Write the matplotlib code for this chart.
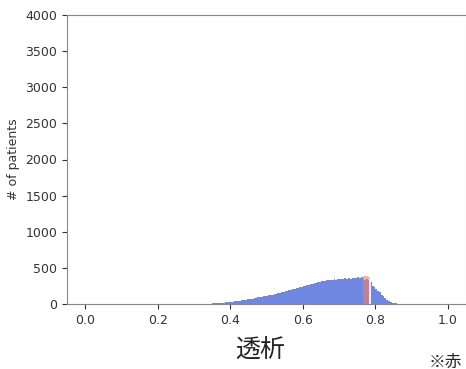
import numpy as np
import matplotlib
matplotlib.use("Agg")
import matplotlib.pyplot as plt

# ---- data ----
bin_start = 0.33
bin_width = 0.005
counts = [
    2, 3, 4, 5, 7, 8, 10, 12, 14, 16, 18, 21, 24, 27,
    30, 33, 37, 40, 44, 48, 52, 55, 60, 64,
    68, 72, 76, 82, 86, 90, 95, 100, 104, 110,
    114, 120, 126, 130, 138, 143, 150, 156, 162, 170,
    176, 183, 190, 196, 205, 212, 218, 226, 232, 240,
    246, 254, 262, 268, 275, 282, 290, 296, 302, 310,
    318, 322, 315, 330, 326, 338, 332, 340, 335, 345,
    342, 350, 346, 355, 348, 360, 352, 365, 358, 362,
    370, 364, 375, 340, 335, 345, 330, 300, 250, 235,
    210, 185, 160, 130, 105, 80, 60, 42, 30, 20,
    14, 9, 6, 4, 3, 2, 1, 1, 0, 0,
]
red_start = 0.765
red_counts = [385, 392, 388, 380]
marker_x = 0.786

xticks = [0.0, 0.2, 0.4, 0.6, 0.8, 1.0]
yticks = [0, 500, 1000, 1500, 2000, 2500, 3000, 3500, 4000]

# ---- figure ----
fig = plt.figure(figsize=(4.66, 3.69), dpi=100)
ax = fig.add_axes([67/466, 1-304/369, (466-67)/466, (304-15)/369])

edges = bin_start + bin_width*np.arange(len(counts))
ax.bar(edges, counts, width=bin_width, align="edge", color="#6f87e0", linewidth=0)
redges = red_start + bin_width*np.arange(len(red_counts))
ax.bar(redges, red_counts, width=bin_width, align="edge",
       color="#f77a6a", alpha=0.6, linewidth=0)
ax.vlines(marker_x, 0, 340, color="white", linewidth=1.2)

ax.set_xlim(-0.05, 1.05)
ax.set_ylim(0, 4000)
ax.set_xticks(xticks)
ax.set_xticklabels([f"{t:.1f}" for t in xticks])
ax.set_yticks(yticks)
ax.tick_params(labelsize=9, colors="#333333")
ax.set_ylabel("# of patients", fontsize=9, color="#333333")
for s in ax.spines.values():
    s.set_color("#888888")
ax.spines["right"].set_color("#d8d8d8")

fig.text(260/466, 1-350/369, "透析", fontsize=18, ha="center", va="center",
         family=["Noto Sans CJK JP", "DejaVu Sans"], color="#222222")
fig.text(429/466, 1-362/369, "※赤", fontsize=12, ha="left", va="center",
         family=["Noto Sans CJK JP", "DejaVu Sans"], color="#222222")

fig.savefig("out.png", dpi=100)
